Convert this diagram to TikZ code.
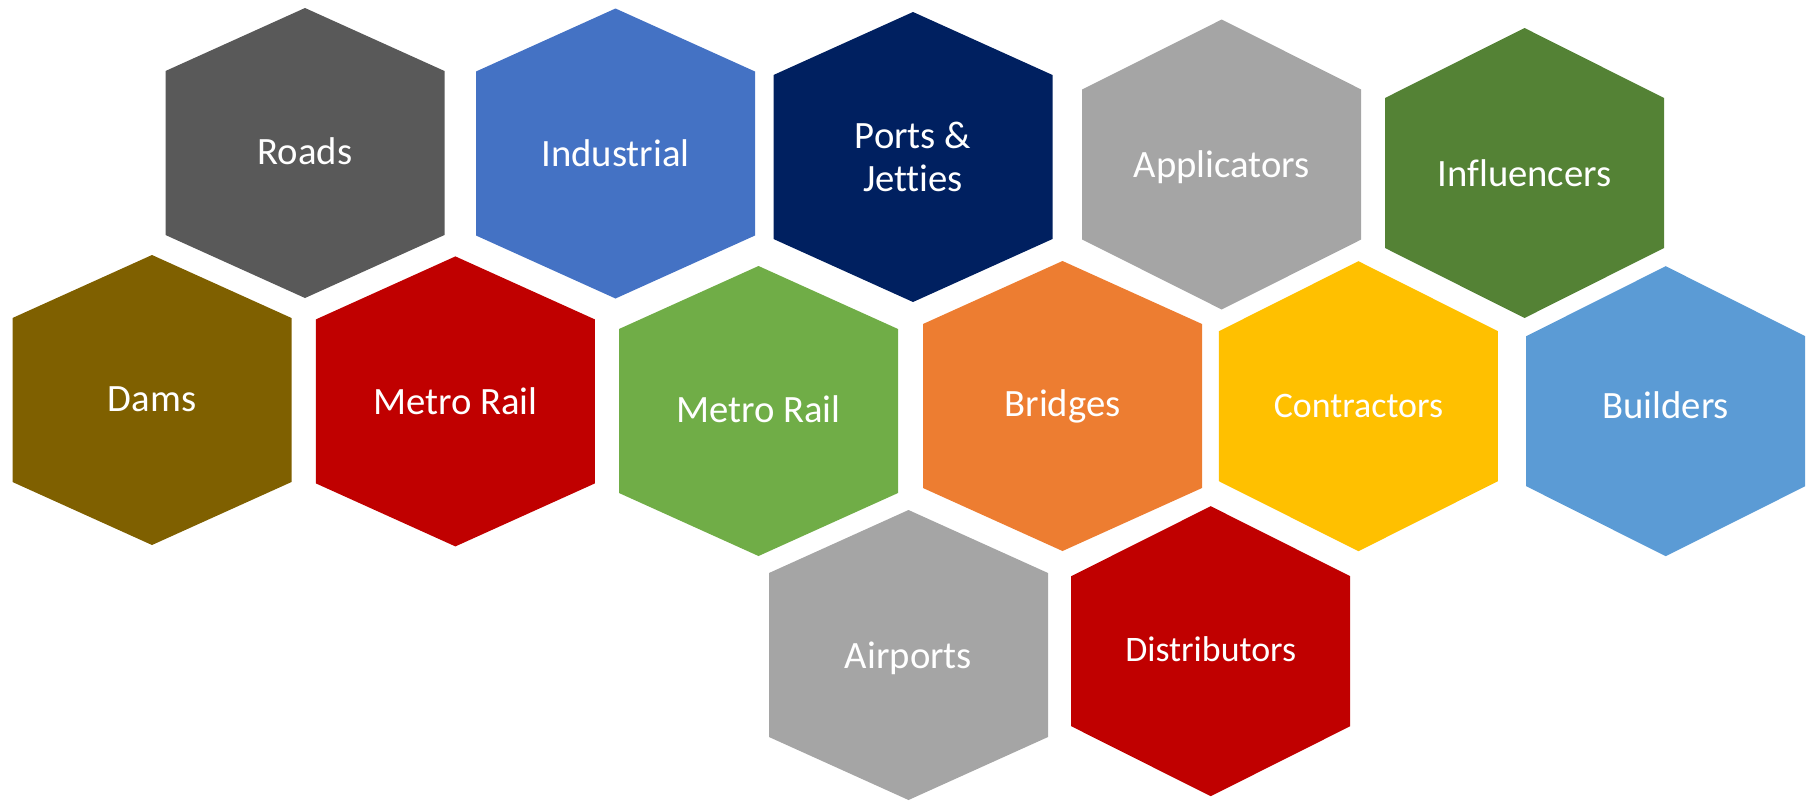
\documentclass[tikz,border=0pt]{standalone}
\usepackage{fontspec}
\setmainfont{Carlito}[Ligatures={NoCommon,NoRequired,NoContextual}]
\usepackage{xcolor}
\usepackage{tikz}
\usetikzlibrary{positioning,calc}

\definecolor{roadgray}{HTML}{595959}
\definecolor{indblue}{HTML}{4472C4}
\definecolor{navyblue}{HTML}{002060}
\definecolor{lightgray}{HTML}{A5A5A5}
\definecolor{darkgreen}{HTML}{548235}
\definecolor{olivebrown}{HTML}{7F6000}
\definecolor{deepred}{HTML}{C00000}
\definecolor{leafgreen}{HTML}{70AD47}
\definecolor{brorange}{HTML}{ED7D31}
\definecolor{goldyellow}{HTML}{FFC000}
\definecolor{skyblue}{HTML}{5B9BD5}

% hexagon cell: colour, centre, half length of the vertical side
\newcommand{\hexcell}[3]{%
  \fill[#1, shift={(#2)}] (0,-145) -- (139.5,-#3) -- (139.5,#3) -- (0,145)
    -- (-139.5,#3) -- (-139.5,-#3) -- cycle;}

\begin{document}
\begin{tikzpicture}[x=0.01cm, y=-0.01cm,
    hexlabel/.style={text=white, align=center, font=\fontsize{11}{12.2}\selectfont},
    hexsmall/.style={hexlabel, font=\fontsize{10.2}{12}\selectfont}]
    \useasboundingbox (0,0) rectangle (1810,800);

    % Top row
    \hexcell{roadgray}{305,153}{82}
    \hexcell{indblue}{615.5,153.5}{82}
    \hexcell{navyblue}{913,157}{82}
    \hexcell{lightgray}{1221.7,164.5}{75}
    \hexcell{darkgreen}{1524.5,173}{75}

    % Middle row
    \hexcell{olivebrown}{152,400}{82}
    \hexcell{deepred}{455.4,401.4}{82}
    \hexcell{leafgreen}{758.5,411}{82}
    \hexcell{brorange}{1062.5,406}{82}
    \hexcell{goldyellow}{1358.4,406.2}{75}
    \hexcell{skyblue}{1665.7,411.2}{75}

    % Bottom row
    \hexcell{lightgray}{908.5,655}{82}
    \hexcell{deepred}{1210.7,651.2}{75}

    % Labels
    \node[hexlabel] (roads) at (305,151) {Roads};
    \node[hexlabel] (industrial) at (615.5,153.5) {Industrial};
    \node[hexlabel] (ports) at (913,157) {Ports \&\\Jetties};
    \node[hexlabel] (applicators) at (1221.7,167) {Applicators};
    \node[hexlabel] (influencers) at (1524.5,173) {Influencers};

    \node[hexlabel] (dams) at (152,399) {Dams};
    \node[hexlabel] (metrored) at (455.4,401.4) {Metro Rail};
    \node[hexlabel] (metrogreen) at (758.5,409) {Metro Rail};
    \node[hexlabel] (bridges) at (1062.5,406) {Bridges};
    \node[hexsmall] (contractors) at (1358.4,406.2) {Contractors};
    \node[hexlabel] (builders) at (1665.7,405) {Builders};

    \node[hexlabel] (airports) at (908.5,658) {Airports};
    \node[hexsmall] (distributors) at (1210.7,649) {Distributors};
\end{tikzpicture}
\end{document}
